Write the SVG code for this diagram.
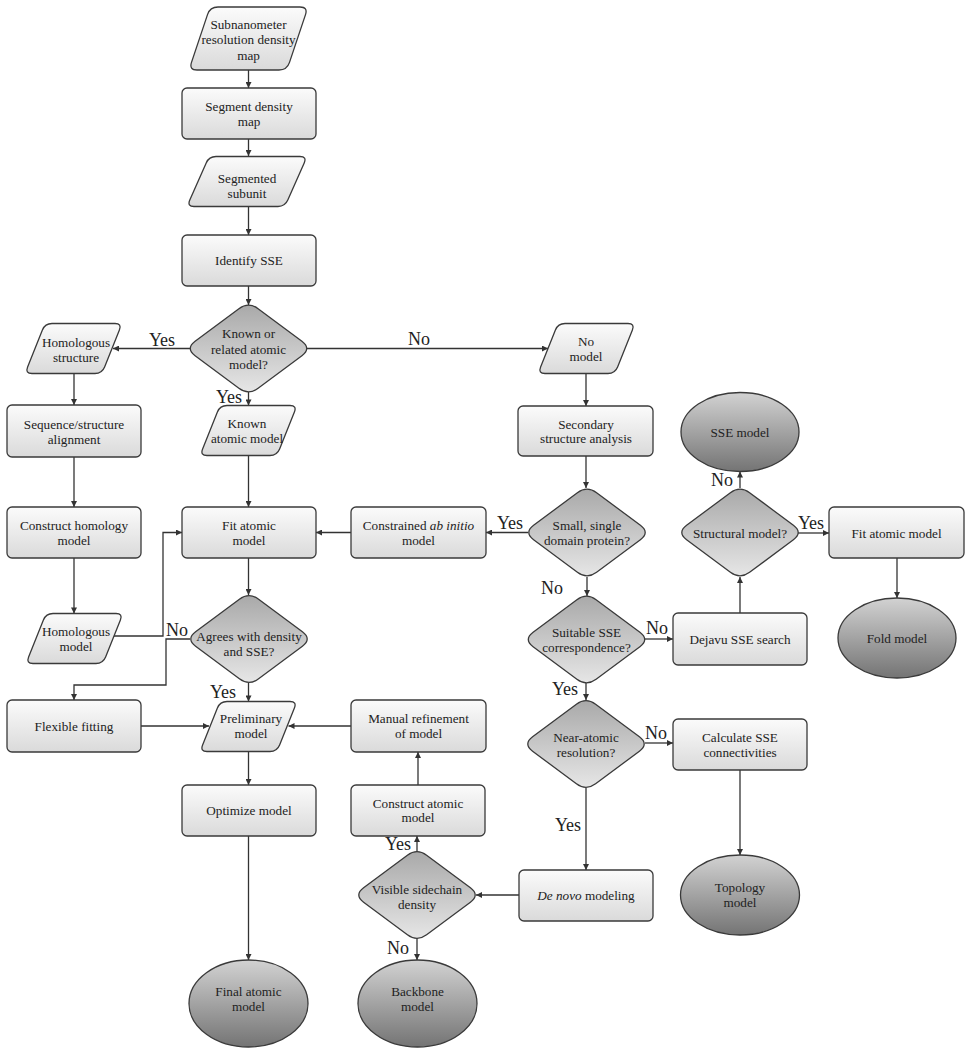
<svg xmlns="http://www.w3.org/2000/svg" width="969" height="1050" viewBox="0 0 969 1050" font-family="'Liberation Serif', 'DejaVu Serif', serif">
<style>
.t{font-family:'Liberation Serif','DejaVu Serif',serif;font-size:13.2px;fill:#222;text-anchor:middle}
.l{font-family:'Liberation Serif','DejaVu Serif',serif;font-size:18px;fill:#222;text-anchor:middle}
.box{fill:url(#gBox);stroke:#3a3a3a;stroke-width:1.3}
.dia{fill:url(#gDia);stroke:#3a3a3a;stroke-width:1.3}
.ell{fill:url(#gEll);stroke:#3a3a3a;stroke-width:1.3}
.c{fill:none;stroke:#333;stroke-width:1.3;marker-end:url(#arr)}
</style>
<defs>
<linearGradient id="gBox" x1="0" y1="0" x2="0" y2="1"><stop offset="0" stop-color="#fbfbfb"/><stop offset="1" stop-color="#dadada"/></linearGradient>
<linearGradient id="gDia" x1="0" y1="0" x2="0" y2="1"><stop offset="0" stop-color="#a9a9a9"/><stop offset="1" stop-color="#e6e6e6"/></linearGradient>
<linearGradient id="gEll" x1="0" y1="0" x2="0" y2="1"><stop offset="0" stop-color="#d2d2d2"/><stop offset="1" stop-color="#747474"/></linearGradient>
<marker id="arr" viewBox="0 0 10 10" refX="10" refY="5" markerWidth="8" markerHeight="6" markerUnits="userSpaceOnUse" orient="auto"><path d="M0,0 L10,5 L0,10 Z" fill="#333"/></marker>
<path id="dia" d="M -9.6,-39.8 Q 0,-47 9.6,-39.8 L 53.4,-7.2 Q 63,0 53.4,7.2 L 9.6,39.8 Q 0,47 -9.6,39.8 L -53.4,7.2 Q -63,0 -53.4,-7.2 Z"/>
<path id="para" d="M 27,0 L 90,0 Q 97,0 94.4,6.5 L 79.6,43.5 Q 77,50 70,50 L 7,50 Q 0,50 2.6,43.5 L 17.4,6.5 Q 20,0 27,0 Z"/>
</defs>
<rect width="969" height="1050" fill="#fff"/>

<g id="connectors">
<path class="c" d="M248.5,70 V88"/>
<path class="c" d="M248.5,139 V156"/>
<path class="c" d="M248.5,207 V235"/>
<path class="c" d="M248.5,286 V305"/>
<path class="c" d="M190,348.5 H113"/>
<path class="c" d="M74,373.5 V405"/>
<path class="c" d="M248.5,392 V405.5"/>
<path class="c" d="M307,348.5 H548"/>
<path class="c" d="M586,373.5 V406"/>
<path class="c" d="M586,456 V488"/>
<path class="c" d="M74,457 V507"/>
<path class="c" d="M248.5,455.5 V507"/>
<path class="c" d="M528,532.5 H486"/>
<path class="c" d="M351,532.5 H316"/>
<path class="c" d="M74,558 V613.5"/>
<path class="c" d="M114,636 H163 V532.5 H182"/>
<path class="c" d="M248.5,558 V595"/>
<path class="c" d="M190,639 H166 V685 H74 V700"/>
<path class="c" d="M248.5,683 V701.5"/>
<path class="c" d="M141,726 H209"/>
<path class="c" d="M351,726 H288.5"/>
<path class="c" d="M248.5,751.5 V785"/>
<path class="c" d="M248.5,836 V960"/>
<path class="c" d="M418,785 V752"/>
<path class="c" d="M417,852 V836"/>
<path class="c" d="M417,938 V960"/>
<path class="c" d="M519,895 H476"/>
<path class="c" d="M587,577 V596"/>
<path class="c" d="M645,639 H673"/>
<path class="c" d="M740,613 V577"/>
<path class="c" d="M740,488 V471.5"/>
<path class="c" d="M798,533 H829"/>
<path class="c" d="M897,558 V598"/>
<path class="c" d="M586,683 V700"/>
<path class="c" d="M645,743 H673"/>
<path class="c" d="M740,770 V855"/>
<path class="c" d="M586,788 V870"/>
</g>

<g id="edge-labels">
<text class="l" x="162" y="346">Yes</text>
<text class="l" x="229" y="403">Yes</text>
<text class="l" x="419" y="345">No</text>
<text class="l" x="510" y="529">Yes</text>
<text class="l" x="552" y="594">No</text>
<text class="l" x="657" y="634">No</text>
<text class="l" x="565" y="695">Yes</text>
<text class="l" x="656" y="739">No</text>
<text class="l" x="568" y="831">Yes</text>
<text class="l" x="722" y="486">No</text>
<text class="l" x="811" y="529">Yes</text>
<text class="l" x="177" y="636">No</text>
<text class="l" x="223" y="698">Yes</text>
<text class="l" x="398" y="850">Yes</text>
<text class="l" x="398" y="954">No</text>
</g>

<g id="n-subnanometer">
<path class="box" transform="translate(189,7)" d="M 29,0 L 111,0 Q 119,0 116.5,7.6 L 100.5,55.4 Q 98,63 90,63 L 8,63 Q 0,63 2.5,55.4 L 18.5,7.6 Q 21,0 29,0 Z"/>
<text class="t" x="248.5" y="28.5">Subnanometer</text>
<text class="t" x="248.5" y="44">resolution density</text>
<text class="t" x="248.5" y="59.5">map</text>
</g>
<g id="n-segment">
<rect class="box" x="182" y="88" width="134" height="51" rx="5"/>
<text class="t" x="249" y="111">Segment density</text>
<text class="t" x="249" y="126">map</text>
</g>
<g id="n-segmented">
<path class="box" transform="translate(187,156.5)" d="M 29,0 L 113,0 Q 120,0 117.2,6.4 L 100.8,43.6 Q 98,50 91,50 L 7,50 Q 0,50 2.8,43.6 L 19.2,6.4 Q 22,0 29,0 Z"/>
<text class="t" x="247" y="183">Segmented</text>
<text class="t" x="247" y="198">subunit</text>
</g>
<g id="n-identify">
<rect class="box" x="182" y="235" width="134" height="51" rx="5"/>
<text class="t" x="249" y="265">Identify SSE</text>
</g>
<g id="n-known-q">
<use href="#dia" class="dia" transform="translate(248.5,348.5)"/>
<text class="t" x="248.5" y="337.5">Known or</text>
<text class="t" x="248.5" y="353.5">related atomic</text>
<text class="t" x="248.5" y="369">model?</text>
</g>
<g id="n-homstruct">
<use href="#para" class="box" transform="translate(25,323.5)"/>
<text class="t" x="76" y="347">Homologous</text>
<text class="t" x="76" y="361.5">structure</text>
</g>
<g id="n-seqalign">
<rect class="box" x="7" y="405" width="134" height="52" rx="5"/>
<text class="t" x="74" y="429">Sequence/structure</text>
<text class="t" x="74" y="443.5">alignment</text>
</g>
<g id="n-knownatomic">
<use href="#para" class="box" transform="translate(200,405.5)"/>
<text class="t" x="247" y="427.5">Known</text>
<text class="t" x="247" y="442.5">atomic model</text>
</g>
<g id="n-nomodel">
<use href="#para" class="box" transform="translate(538,323.5)"/>
<text class="t" x="586" y="346">No</text>
<text class="t" x="586" y="361">model</text>
</g>
<g id="n-secondary">
<rect class="box" x="518" y="406" width="135" height="50" rx="5"/>
<text class="t" x="586" y="428.5">Secondary</text>
<text class="t" x="586" y="443">structure analysis</text>
</g>
<g id="n-conshom">
<rect class="box" x="7" y="507" width="134" height="51" rx="5"/>
<text class="t" x="74" y="529.5">Construct homology</text>
<text class="t" x="74" y="545">model</text>
</g>
<g id="n-fit">
<rect class="box" x="182" y="507" width="134" height="51" rx="5"/>
<text class="t" x="249" y="529.5">Fit atomic</text>
<text class="t" x="249" y="545">model</text>
</g>
<g id="n-constrained">
<rect class="box" x="351" y="507" width="135" height="51" rx="5"/>
<text class="t" x="418.5" y="529.5">Constrained <tspan font-style="italic">ab initio</tspan></text>
<text class="t" x="418.5" y="545">model</text>
</g>
<g id="n-small-q">
<use href="#dia" class="dia" transform="translate(587,532.5)"/>
<text class="t" x="587" y="529.5">Small, single</text>
<text class="t" x="587" y="544.5">domain protein?</text>
</g>
<g id="n-sse">
<ellipse class="ell" cx="740" cy="432" rx="59" ry="39.5"/>
<text class="t" x="740" y="436.5">SSE model</text>
</g>
<g id="n-struct-q">
<use href="#dia" class="dia" transform="translate(740,532.5)"/>
<text class="t" x="740" y="537.5">Structural model?</text>
</g>
<g id="n-fit2">
<rect class="box" x="829" y="507" width="135" height="51" rx="5"/>
<text class="t" x="896.5" y="537.5">Fit atomic model</text>
</g>
<g id="n-fold">
<ellipse class="ell" cx="897" cy="638" rx="59" ry="40"/>
<text class="t" x="897" y="642.5">Fold model</text>
</g>
<g id="n-hommodel">
<use href="#para" class="box" transform="translate(26,613.5)"/>
<text class="t" x="76" y="636">Homologous</text>
<text class="t" x="76" y="650.5">model</text>
</g>
<g id="n-agrees-q">
<use href="#dia" class="dia" transform="translate(249,639)"/>
<text class="t" x="249" y="640.5">Agrees with density</text>
<text class="t" x="249" y="655.5">and SSE?</text>
</g>
<g id="n-suitable-q">
<use href="#dia" class="dia" transform="translate(586.5,639.5)"/>
<text class="t" x="586.5" y="636.5">Suitable SSE</text>
<text class="t" x="586.5" y="651.5">correspondence?</text>
</g>
<g id="n-dejavu">
<rect class="box" x="673" y="613" width="134" height="52" rx="5"/>
<text class="t" x="740" y="643.5">Dejavu SSE search</text>
</g>
<g id="n-flex">
<rect class="box" x="7" y="700" width="134" height="52" rx="5"/>
<text class="t" x="74" y="730.5">Flexible fitting</text>
</g>
<g id="n-prelim">
<use href="#para" class="box" transform="translate(200,701.5)"/>
<text class="t" x="251" y="722.5">Preliminary</text>
<text class="t" x="251" y="737.5">model</text>
</g>
<g id="n-manual">
<rect class="box" x="351" y="700" width="135" height="52" rx="5"/>
<text class="t" x="418.5" y="722.5">Manual refinement</text>
<text class="t" x="418.5" y="737.5">of model</text>
</g>
<g id="n-near-q">
<use href="#dia" class="dia" transform="translate(586,744)"/>
<text class="t" x="586" y="741.5">Near-atomic</text>
<text class="t" x="586" y="756.5">resolution?</text>
</g>
<g id="n-calc">
<rect class="box" x="673" y="719" width="134" height="51" rx="5"/>
<text class="t" x="740" y="741.5">Calculate SSE</text>
<text class="t" x="740" y="756.5">connectivities</text>
</g>
<g id="n-optimize">
<rect class="box" x="182" y="785" width="134" height="51" rx="5"/>
<text class="t" x="249" y="815">Optimize model</text>
</g>
<g id="n-consatomic">
<rect class="box" x="351" y="785" width="134" height="51" rx="5"/>
<text class="t" x="418" y="807.5">Construct atomic</text>
<text class="t" x="418" y="822">model</text>
</g>
<g id="n-visible-q">
<use href="#dia" class="dia" transform="translate(417,895)"/>
<text class="t" x="417" y="893.5">Visible sidechain</text>
<text class="t" x="417" y="908.5">density</text>
</g>
<g id="n-denovo">
<rect class="box" x="519" y="870" width="134" height="51" rx="5"/>
<text class="t" x="586" y="899.5"><tspan font-style="italic">De novo</tspan> modeling</text>
</g>
<g id="n-topology">
<ellipse class="ell" cx="740" cy="895" rx="59.5" ry="40"/>
<text class="t" x="740" y="892">Topology</text>
<text class="t" x="740" y="906.5">model</text>
</g>
<g id="n-final">
<ellipse class="ell" cx="248.5" cy="1003.5" rx="59.5" ry="43.5"/>
<text class="t" x="248.5" y="996">Final atomic</text>
<text class="t" x="248.5" y="1011">model</text>
</g>
<g id="n-backbone">
<ellipse class="ell" cx="417.5" cy="1003.5" rx="59.5" ry="43.5"/>
<text class="t" x="417.5" y="996">Backbone</text>
<text class="t" x="417.5" y="1011">model</text>
</g>
</svg>
